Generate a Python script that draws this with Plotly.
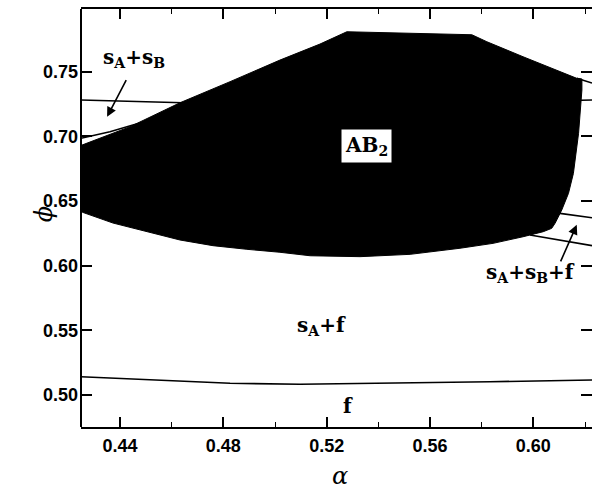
import plotly.graph_objects as go

# ---- data (alpha, phi) ----
ab2_alpha = [0.4240, 0.4253, 0.4439, 0.4632, 0.4826, 0.5019, 0.5174, 0.5278, 0.5762, 0.5820,
             0.5960, 0.6168, 0.6188, 0.6188, 0.6175, 0.6155, 0.6136, 0.6110, 0.6084, 0.6071,
             0.6038, 0.5960, 0.5844, 0.5716, 0.5523, 0.5329, 0.5136, 0.5019, 0.4891, 0.4760,
             0.4632, 0.4503, 0.4373, 0.4255, 0.4240]
ab2_phi = [0.6935, 0.6933, 0.7075, 0.7260, 0.7423, 0.7590, 0.7714, 0.7809, 0.7786, 0.7732,
           0.7616, 0.7449, 0.7444, 0.7359, 0.7024, 0.6714, 0.6560, 0.6431, 0.6328, 0.6289,
           0.6263, 0.6224, 0.6173, 0.6135, 0.6088, 0.6070, 0.6077, 0.6104, 0.6127, 0.6155,
           0.6199, 0.6263, 0.6330, 0.6413, 0.6418]

ssb_upper_alpha = [0.4249, 0.4644, 0.5800, 0.6227]
ssb_upper_phi = [0.7281, 0.7260, 0.7262, 0.7281]

ssb_lower_alpha = [0.4249, 0.4361, 0.4450, 0.4516]
ssb_lower_phi = [0.6985, 0.7036, 0.7088, 0.7125]

top_right_alpha = [0.6168, 0.6227]
top_right_phi = [0.7449, 0.7412]

ssbf_upper_alpha = [0.6103, 0.6227]
ssbf_upper_phi = [0.6405, 0.6371]

ssbf_lower_alpha = [0.5987, 0.6227]
ssbf_lower_phi = [0.6237, 0.6155]

f_alpha = [0.4249, 0.4516, 0.4826, 0.5097, 0.5445, 0.5832, 0.6227]
f_phi = [0.5142, 0.5116, 0.5091, 0.5083, 0.5091, 0.5103, 0.5116]

region_labels = ["s<sub>A</sub>+s<sub>B</sub>", "s<sub>A</sub>+s<sub>B</sub>+f", "s<sub>A</sub>+f", "f"]
region_label_alpha = [0.4454, 0.5987, 0.5178, 0.5283]
region_label_phi = [0.7608, 0.5944, 0.5534, 0.4915]

ab2_label = "AB<sub>2</sub>"
ab2_label_alpha = 0.5356
ab2_label_phi = 0.6927

# arrows: (head alpha, head phi, tail alpha, tail phi)
arrows = [(0.4350, 0.7152, 0.4427, 0.7446),
          (0.6168, 0.6316, 0.6103, 0.6022)]

x_range = [0.4249, 0.6227]
y_range = [0.4753, 0.7985]

fig = go.Figure()

line_style = dict(color="black", width=1.6)
for xs, ys in [(ssb_upper_alpha, ssb_upper_phi), (ssb_lower_alpha, ssb_lower_phi),
               (top_right_alpha, top_right_phi), (ssbf_upper_alpha, ssbf_upper_phi),
               (ssbf_lower_alpha, ssbf_lower_phi), (f_alpha, f_phi)]:
    fig.add_trace(go.Scatter(x=xs, y=ys, mode="lines", line=line_style,
                             showlegend=False, hoverinfo="skip"))

fig.add_trace(go.Scatter(x=ab2_alpha, y=ab2_phi, mode="lines", fill="toself",
                         fillcolor="black", line=dict(color="black", width=1),
                         showlegend=False, hoverinfo="skip"))

label_font = dict(family="DejaVu Serif", size=20, color="black", weight="bold")
for t, xa, yp in zip(region_labels, region_label_alpha, region_label_phi):
    fig.add_annotation(x=xa, y=yp, text=t, showarrow=False, font=label_font)

fig.add_annotation(x=ab2_label_alpha, y=ab2_label_phi, text=ab2_label, showarrow=False,
                   font=label_font, bgcolor="white", borderpad=3)

for hx, hy, tx, ty in arrows:
    fig.add_annotation(x=hx, y=hy, ax=tx, ay=ty, axref="x", ayref="y", text="",
                       showarrow=True, arrowhead=2, arrowsize=1.2, arrowwidth=1.6,
                       arrowcolor="black")

# axis titles
fig.add_annotation(xref="paper", yref="paper", x=0.507, y=-0.118, yanchor="middle",
                   text="α", showarrow=False,
                   font=dict(family="DejaVu Serif", size=24, color="black", style="italic"))
fig.add_annotation(xref="paper", x=-0.105, yref="paper", y=0.51, text="ϕ",
                   showarrow=False, textangle=-90,
                   font=dict(family="DejaVu Serif", size=24, color="black", style="italic"))

# left axis line
fig.add_shape(type="line", xref="paper", yref="paper", x0=0, x1=0, y0=0, y1=1,
              line=dict(color="black", width=2))

tickfont = dict(family="Liberation Sans", size=18, color="black", weight="bold")
fig.update_xaxes(range=x_range, tick0=0.44, dtick=0.04, tickformat=".2f",
                 ticks="inside", ticklen=10, tickwidth=1.6, tickcolor="black",
                 showline=True, linecolor="black", linewidth=2, mirror="ticks",
                 showgrid=False, zeroline=False, tickfont=tickfont, ticklabelstandoff=1,
                 minor=dict(dtick=0.02, ticks="inside", ticklen=5, tickwidth=1.4,
                            tickcolor="black", showgrid=False))
fig.update_yaxes(range=y_range, tick0=0.5, dtick=0.05, tickformat=".2f",
                 ticks="inside", ticklen=11, tickwidth=1.6, tickcolor="black",
                 showline=False, mirror="ticks",
                 showgrid=False, zeroline=False, tickfont=tickfont, ticklabelstandoff=2)

fig.update_layout(width=592, height=489, margin=dict(l=81, r=0, t=9, b=62),
                  plot_bgcolor="white", paper_bgcolor="white")

fig.write_html("out.html")
